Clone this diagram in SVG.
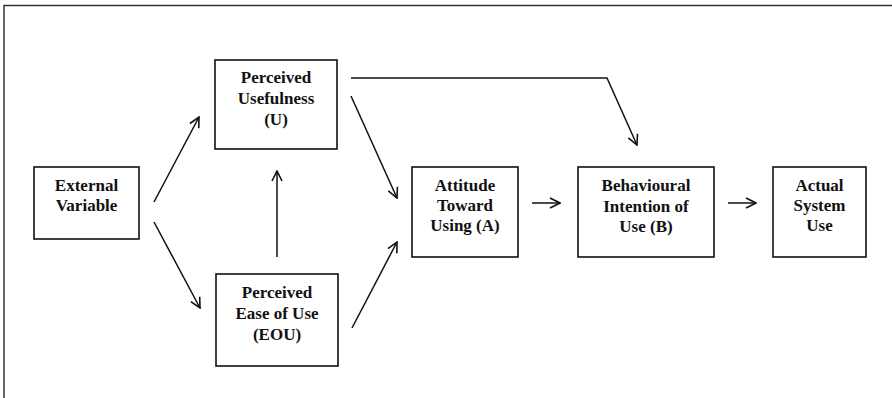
<svg xmlns="http://www.w3.org/2000/svg" width="892" height="398" viewBox="0 0 892 398">
<style>
.box{fill:#fff;stroke:#111;stroke-width:1.6}
.t{font-family:"Liberation Serif","Times New Roman",serif;font-weight:bold;font-size:17px;fill:#111;text-anchor:middle}
.c{fill:none;stroke:#111;stroke-width:1.5}
</style>
<defs>
<marker id="ah" viewBox="0 0 12 12" refX="11" refY="6" markerWidth="12" markerHeight="12" markerUnits="userSpaceOnUse" orient="auto">
<path d="M1,1 L11,6 L1,11" fill="none" stroke="#111" stroke-width="1.6"/>
</marker>
</defs>
<rect width="892" height="398" fill="#fff"/>
<g id="frame">
<line x1="4" y1="5.5" x2="892" y2="5.5" stroke="#333" stroke-width="1.5"/>
<line x1="4" y1="5" x2="4" y2="398" stroke="#333" stroke-width="1.5"/>
</g>
<g id="external">
<rect class="box" x="34" y="167" width="105" height="72"/>
<text class="t" x="86.5" y="191">External</text>
<text class="t" x="86.5" y="211">Variable</text>
</g>
<g id="pu">
<rect class="box" x="215" y="60" width="122" height="89"/>
<text class="t" x="276" y="83">Perceived</text>
<text class="t" x="276" y="104">Usefulness</text>
<text class="t" x="276" y="125">(U)</text>
</g>
<g id="peou">
<rect class="box" x="216" y="274" width="122" height="92"/>
<text class="t" x="277" y="298">Perceived</text>
<text class="t" x="277" y="319">Ease of Use</text>
<text class="t" x="277" y="340">(EOU)</text>
</g>
<g id="attitude">
<rect class="box" x="412" y="167" width="106" height="90"/>
<text class="t" x="465" y="191">Attitude</text>
<text class="t" x="465" y="211">Toward</text>
<text class="t" x="465" y="231">Using (A)</text>
</g>
<g id="behaviour">
<rect class="box" x="578" y="167" width="136" height="90"/>
<text class="t" x="646" y="191">Behavioural</text>
<text class="t" x="646" y="212">Intention of</text>
<text class="t" x="646" y="232">Use (B)</text>
</g>
<g id="actual">
<rect class="box" x="773" y="167" width="93" height="90"/>
<text class="t" x="819.5" y="191">Actual</text>
<text class="t" x="819.5" y="211">System</text>
<text class="t" x="819.5" y="231">Use</text>
</g>
<g id="connectors">
<line class="c" x1="154" y1="202" x2="199" y2="117" marker-end="url(#ah)"/>
<line class="c" x1="154" y1="222" x2="200" y2="308" marker-end="url(#ah)"/>
<line class="c" x1="277" y1="257" x2="277" y2="171" marker-end="url(#ah)"/>
<line class="c" x1="351" y1="96" x2="397" y2="198" marker-end="url(#ah)"/>
<line class="c" x1="352" y1="328" x2="397" y2="242" marker-end="url(#ah)"/>
<polyline class="c" points="351,78 607,78 637,145" marker-end="url(#ah)"/>
<line class="c" x1="532" y1="203" x2="560" y2="203" marker-end="url(#ah)"/>
<line class="c" x1="728" y1="203" x2="756" y2="203" marker-end="url(#ah)"/>
</g>
</svg>
